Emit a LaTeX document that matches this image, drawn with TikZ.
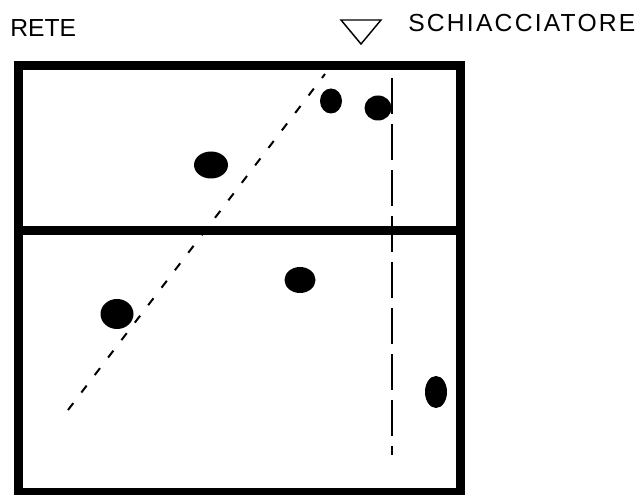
\documentclass[tikz,border=0pt]{standalone}
\usepackage{fontspec}
\setmainfont{Liberation Sans}
\begin{document}
\begin{tikzpicture}[x=0.75pt,y=0.75pt,yscale=-1,xscale=1]
			\useasboundingbox (0,0) rectangle (640,495);
			
			%Shape: Rectangle [id:campo] 
			\draw  [line width=6.75] (18,66) rectangle (460,493) ;
			%Straight Lines [id:rete] 
			\draw  [line width=6.75]  (18,231) -- (460,231) ;
			%Straight Lines [id:traiettoria] 
			\draw  [line width=1.5] [dash pattern={on 6.5pt off 10pt}]  (68,410) -- (325,74) ;
			%Straight Lines [id:muro] 
			\draw  [line width=1.5] [dash pattern={on 27pt off 7.5pt}]  (392,78) -- (392,455) ;
			%Shape: Triangle [id:schiacciatore] 
			\draw  [line width=1.1]  (341,20) -- (381,20) -- (361,44) -- cycle ;
			
			%Shape: Ellipse [id:giocatori] 
			\fill  (331,101) ellipse (11 and 12.5) ;
			\fill  (378,108) ellipse (13.5 and 12.5) ;
			\fill  (211,165) ellipse (17 and 13.5) ;
			\fill  (300,280) ellipse (15.5 and 13) ;
			\fill  (117,314) ellipse (16.5 and 15) ;
			\fill  (436,392) ellipse (11 and 16) ;
			
			% Text Node
			\draw (10,37) node (lblrete) [anchor=base west][inner sep=0pt]  {\fontsize{18.5}{22}\selectfont RETE};
			% Text Node
			\draw (408,32) node (lblschiacciatore) [anchor=base west][inner sep=0pt]  {\fontsize{18.5}{22}\selectfont\addfontfeature{LetterSpace=9}SCHIACCIATORE};
\end{tikzpicture}
\end{document}
